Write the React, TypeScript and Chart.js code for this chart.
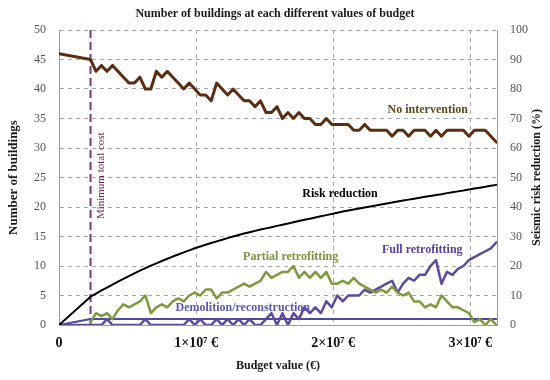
import React, { useEffect, useRef } from "react";
import { Chart, registerables } from "chart.js";

Chart.register(...registerables);

// Budget values, in millions of euros
const budgetM = [
  0, 2.3, 2.7, 3.1, 3.5, 3.9, 4.3, 4.7, 5.1, 5.5,
  5.9, 6.3, 6.7, 7.1, 7.5, 7.9, 8.3, 8.7, 9.1, 9.5,
  9.9, 10.3, 10.7, 11.1, 11.5, 11.9, 12.3, 12.7, 13.1, 13.5,
  13.9, 14.3, 14.7, 15.1, 15.5, 15.9, 16.3, 16.7, 17.1, 17.5,
  17.9, 18.3, 18.7, 19.1, 19.5, 19.9, 20.3, 20.7, 21.1, 21.5,
  21.9, 22.3, 22.7, 23.1, 23.5, 23.9, 24.3, 24.7, 25.1, 25.5,
  25.9, 26.3, 26.7, 27.1, 27.5, 27.9, 28.3, 28.7, 29.1, 29.5,
  29.9, 30.3, 30.7, 31.1, 31.5, 31.9,
];

// Number of buildings (left axis)
const noIntervention = [
  46, 45, 43, 44, 43, 44, 43, 42, 41, 41,
  42, 40, 40, 43, 42, 43, 42, 41, 40, 41,
  40, 39, 39, 38, 41, 40, 39, 40, 39, 38,
  38, 37, 38, 36, 36, 37, 35, 36, 35, 36,
  35, 35, 34, 34, 35, 34, 34, 34, 34, 33,
  33, 34, 33, 33, 33, 33, 32, 33, 33, 32,
  33, 33, 33, 32, 33, 32, 33, 33, 33, 33,
  32, 33, 33, 33, 32, 31,
];

const partialRetrofitting = [
  null, 0.5, 2, 1.5, 2, 1, 2.5, 3.5, 3, 3.5,
  4, 5, 2, 3, 3.5, 3, 4, 4.5, 4, 5,
  5.5, 5, 6, 6, 4.5, 5.5, 5.5, 6, 6.5, 7,
  6.5, 7, 7.5, 9, 8, 8.5, 9, 9, 10, 8,
  9, 8, 9, 8, 9, 7, 7, 7.5, 7, 8,
  7, 6.5, 6, 5.5, 6, 5.5, 6.5, 5.5, 5, 5.5,
  4, 4, 3, 3.5, 3, 5, 4, 3, 3, 2.5,
  2, 0.5, 1, 0, 1, 0,
];

const fullRetrofitting = [
  0, 0, 0, 0, 1, 0, 0, 0, 0, 0,
  0, 1, 0, 0, 0, 0, 0, 0, 0, 1,
  0, 1, 0, 0, 1, 0, 1, 0, 1, 0,
  1, 0, 0, 1, 2, 0, 2, 0, 2, 1,
  3, 2, 3, 2, 4, 3, 5, 4, 5, 5,
  5, 6, 5.5, 6, 6.5, 7, 7.5, 5.5, 7, 8,
  7.5, 8.5, 8.5, 10, 11, 7, 9, 8.5, 9.5, 10,
  11, 11.5, 12, 12.5, 13, 14,
];

const demolitionBudgetM = [0, 2.3, 31.9];
const demolitionReconstruction = [0, 1, 1];

// Seismic risk reduction, % (right axis)
const riskReduction = [
  0, 9.6, 10.65, 11.7, 12.7, 13.7, 14.7, 15.65, 16.6, 17.5,
  18.4, 19.25, 20.1, 20.9, 21.7, 22.45, 23.2, 23.9, 24.6, 25.3,
  26.0, 26.6, 27.2, 27.8, 28.35, 28.9, 29.45, 30.0, 30.5, 31.0,
  31.45, 31.9, 32.35, 32.75, 33.15, 33.6, 34.0, 34.4, 34.85, 35.25,
  35.65, 36.05, 36.45, 36.85, 37.25, 37.65, 38.05, 38.45, 38.8, 39.15,
  39.5, 39.85, 40.2, 40.5, 40.85, 41.2, 41.5, 41.85, 42.2, 42.5,
  42.8, 43.1, 43.45, 43.75, 44.05, 44.35, 44.7, 45.0, 45.3, 45.6,
  45.95, 46.25, 46.55, 46.85, 47.2, 47.5,
];

const minimumTotalCostM = 2.3;
const xTickValues = [0, 10, 20, 30];
const xTickLabels = ["0", "1×10⁷ €", "2×10⁷ €", "3×10⁷ €"];

const TITLE = "Number of buildings at each different values of budget";
const LEFT_TITLE = "Number of buildings";
const RIGHT_TITLE = "Seismic risk reduction (%)";
const X_TITLE = "Budget value (€)";

const FONT = "'Liberation Serif', 'Times New Roman', serif";

const COLORS = {
  noIntervention: "#5a2e12",
  risk: "#000000",
  partial: "#7f9a3e",
  full: "#5e4a9c",
  demolition: "#4b4a9e",
  minCost: "#7d3a6f",
  grid: "#a8a8a8",
  axis: "#9a9a9a",
};

// Series label anchors in data coordinates (budget in M€, number of buildings)
const seriesLabels = [
  { text: "No intervention", x: 26.9, y: 36.4, color: "#5e4a1c" },
  { text: "Risk reduction", x: 20.5, y: 22.2, color: "#000000" },
  { text: "Partial retrofitting", x: 16.9, y: 11.5, color: "#7a9440" },
  { text: "Full retrofitting", x: 26.5, y: 12.7, color: "#5a40a0" },
  { text: "Demolition/reconstruction", x: 13.4, y: 2.9, color: "#5858b4" },
];

const toPoints = (xs: number[], ys: (number | null)[]) =>
  xs.map((x, i) => ({ x, y: ys[i] }));

const annotationPlugin = {
  id: "annotationPlugin",
  beforeDatasetsDraw(chart: any) {
    const { ctx, chartArea, scales } = chart;
    const x = scales.x.getPixelForValue(minimumTotalCostM);
    ctx.save();
    ctx.strokeStyle = COLORS.minCost;
    ctx.lineWidth = 2;
    ctx.setLineDash([8, 4]);
    ctx.beginPath();
    ctx.moveTo(x, chartArea.top);
    ctx.lineTo(x, chartArea.bottom);
    ctx.stroke();
    ctx.restore();
  },
  afterDatasetsDraw(chart: any) {
    const { ctx, chartArea, scales } = chart;
    ctx.save();
    ctx.textAlign = "center";
    ctx.textBaseline = "middle";
    ctx.font = `bold 12px ${FONT}`;
    for (const l of seriesLabels) {
      ctx.fillStyle = l.color;
      ctx.fillText(l.text, scales.x.getPixelForValue(l.x), scales.y.getPixelForValue(l.y));
    }
    // Minimum total cost vertical label
    ctx.save();
    ctx.translate(scales.x.getPixelForValue(minimumTotalCostM) + 11, scales.y.getPixelForValue(25.3));
    ctx.rotate(-Math.PI / 2);
    ctx.font = `11px ${FONT}`;
    ctx.fillStyle = "#6a2a5c";
    ctx.fillText("Minimum total cost", 0, 0);
    ctx.restore();
    // Right axis title, reading bottom to top
    ctx.save();
    ctx.translate(537, (chartArea.top + chartArea.bottom) / 2);
    ctx.rotate(-Math.PI / 2);
    ctx.font = `bold 12px ${FONT}`;
    ctx.fillStyle = "#1a1a1a";
    ctx.fillText(RIGHT_TITLE, 0, 0);
    ctx.restore();
    ctx.restore();
  },
};

export default function App() {
  const canvasRef = useRef<HTMLCanvasElement | null>(null);

  useEffect(() => {
    if (!canvasRef.current) return;
    const chart = new Chart(canvasRef.current, {
      type: "line",
      data: {
        datasets: [
          {
            label: "No intervention",
            data: toPoints(budgetM, noIntervention),
            borderColor: COLORS.noIntervention,
            borderWidth: 3,
            yAxisID: "y",
          },
          {
            label: "Risk reduction",
            data: toPoints(budgetM, riskReduction),
            borderColor: COLORS.risk,
            borderWidth: 2,
            yAxisID: "y1",
          },
          {
            label: "Partial retrofitting",
            data: toPoints(budgetM, partialRetrofitting),
            borderColor: COLORS.partial,
            borderWidth: 2.5,
            yAxisID: "y",
          },
          {
            label: "Full retrofitting",
            data: toPoints(budgetM, fullRetrofitting),
            borderColor: COLORS.full,
            borderWidth: 2.5,
            yAxisID: "y",
          },
          {
            label: "Demolition/reconstruction",
            data: toPoints(demolitionBudgetM, demolitionReconstruction),
            borderColor: COLORS.demolition,
            borderWidth: 2,
            yAxisID: "y",
          },
        ] as any,
      },
      options: {
        animation: false,
        responsive: false,
        maintainAspectRatio: false,
        layout: { padding: 0 },
        elements: {
          point: { radius: 0, hoverRadius: 0 },
          line: { tension: 0, fill: false, borderJoinStyle: "round", borderCapStyle: "round" },
        },
        plugins: {
          legend: { display: false },
          tooltip: { enabled: false },
          title: {
            display: true,
            text: TITLE,
            color: "#1a1a1a",
            font: { family: FONT, size: 12, weight: "bold" },
            padding: { top: 7, bottom: 8.6 },
          },
        },
        scales: {
          x: {
            type: "linear",
            min: 0,
            max: 31.95,
            afterBuildTicks: (scale: any) => {
              scale.ticks = xTickValues.map((v) => ({ value: v }));
            },
            afterFit: (scale: any) => {
              scale.height = 55;
            },
            ticks: {
              color: "#111",
              font: { family: FONT, size: 14, weight: "bold" },
              padding: 10,
              maxRotation: 0,
              callback: (v: any) => {
                const i = xTickValues.indexOf(Number(v));
                return i >= 0 ? xTickLabels[i] : "";
              },
            },
            grid: { color: COLORS.grid, drawTicks: false, lineWidth: 1 },
            border: { display: true, color: COLORS.axis, width: 1, dash: [4, 4] },
            title: {
              display: true,
              text: X_TITLE,
              color: "#1a1a1a",
              font: { family: FONT, size: 12, weight: "bold" },
              padding: { top: 0, bottom: 7 },
            },
          },
          y: {
            type: "linear",
            position: "left",
            min: 0,
            max: 50,
            afterFit: (scale: any) => {
              scale.width = 59;
            },
            ticks: {
              stepSize: 5,
              color: "#555",
              font: { family: FONT, size: 12 },
              padding: 13,
            },
            grid: { color: COLORS.grid, drawTicks: false, lineWidth: 1 },
            border: { display: true, color: COLORS.axis, width: 1, dash: [4, 4] },
            title: {
              display: true,
              text: LEFT_TITLE,
              color: "#1a1a1a",
              font: { family: FONT, size: 13, weight: "bold" },
              padding: { top: 6, bottom: 0 },
            },
          },
          y1: {
            type: "linear",
            position: "right",
            min: 0,
            max: 100,
            afterFit: (scale: any) => {
              scale.width = 53;
            },
            ticks: {
              stepSize: 10,
              color: "#555",
              font: { family: FONT, size: 12 },
              padding: 13,
            },
            grid: { drawOnChartArea: false, drawTicks: false },
            border: { display: true, color: COLORS.axis, width: 1 },
          },
        },
      } as any,
      plugins: [annotationPlugin],
    });
    return () => chart.destroy();
  }, []);

  return (
    <div style={{ position: "fixed", left: 0, top: 0, width: 550, height: 380, background: "#fff" }}>
      <canvas ref={canvasRef} width={550} height={380} style={{ display: "block" }} />
    </div>
  );
}
